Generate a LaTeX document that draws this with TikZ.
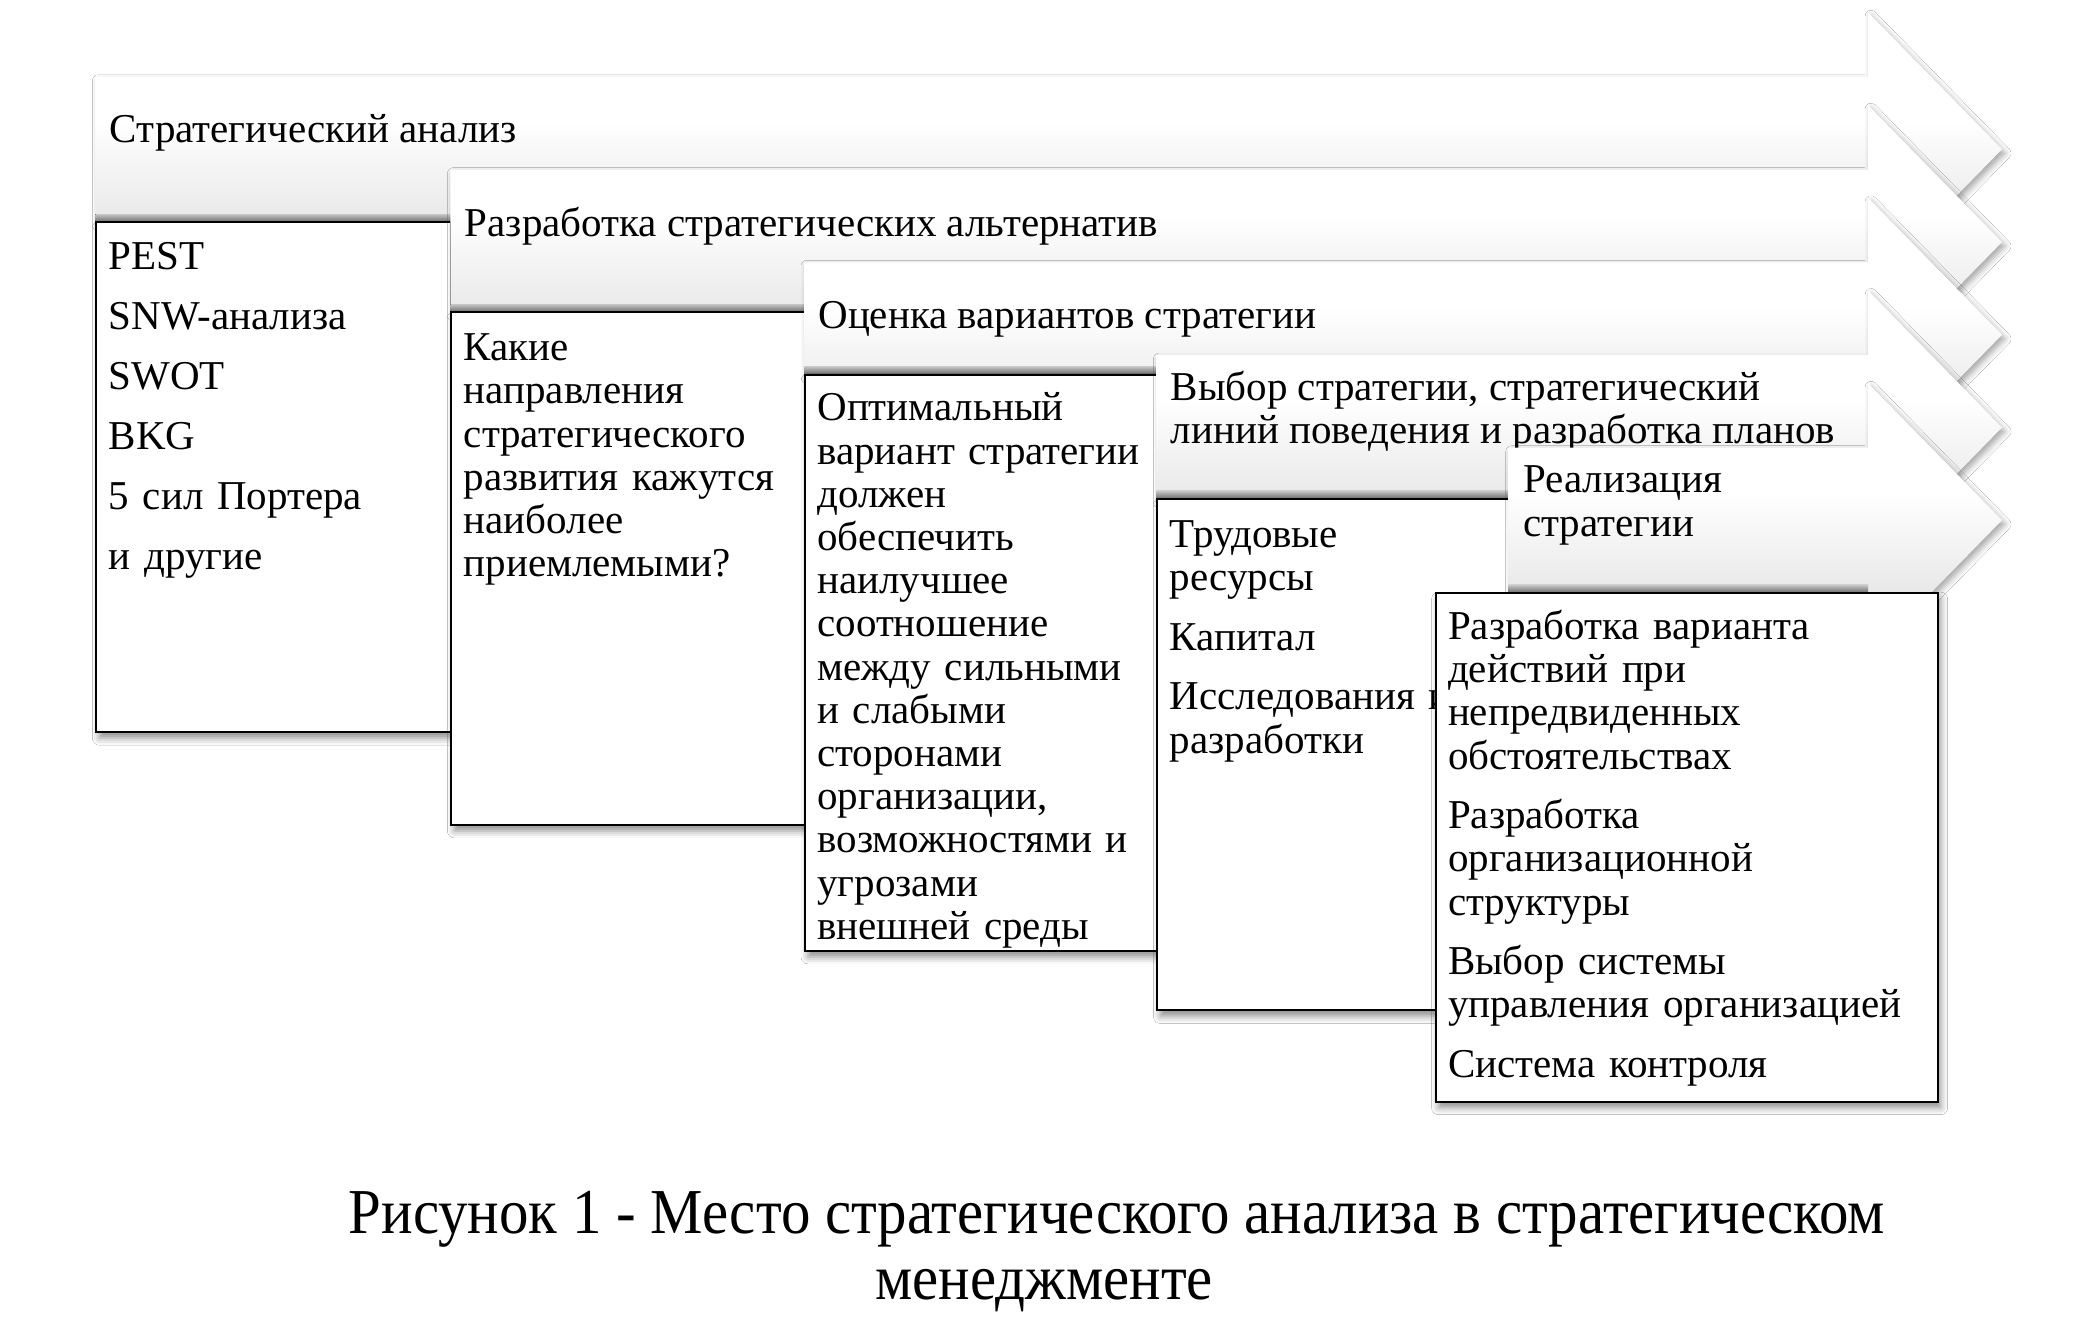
\documentclass[tikz,border=0pt]{standalone}
\usepackage{fontspec}
\setmainfont{Liberation Serif}
\newfontfamily\capfont[FakeStretch=0.92]{Liberation Serif}
\usetikzlibrary{shadows.blur}
\pgfdeclareverticalshading{arrsh}{100bp}{color(0bp)=(black!16); color(25bp)=(black!16); color(37bp)=(black!9); color(55bp)=(white); color(100bp)=(white)}
\tikzset{
  arrowshape/.style={shading=arrsh, blur shadow={shadow xshift=1.5pt, shadow yshift=-2pt, shadow blur radius=3pt, shadow opacity=35}},
  bandshape/.style={top color=black!22, bottom color=black!55},
  boxshape/.style={draw=black, line width=1pt, fill=white, anchor=north west, inner sep=0pt,
    blur shadow={shadow xshift=1.5pt, shadow yshift=-3pt, shadow blur radius=3.5pt, shadow opacity=45}},
  arrtxt/.style={anchor=west, inner sep=0pt, align=left, font=\fontsize{20.5}{21.6}\selectfont},
  boxtxt/.style={anchor=north west, inner sep=0pt, align=left, text width=250pt, font=\fontsize{20.5}{21.6}\selectfont},
  captxt/.style={anchor=base, inner sep=0pt, font=\capfont\fontsize{32}{35}\selectfont}
}
\newcommand{\fs}{\rule{0pt}{16pt}}
\begin{document}
\begin{tikzpicture}[x=0.5pt, y=-0.5pt]
\useasboundingbox (0,0) rectangle (2077,1333);
\fill[white] (0,0) rectangle (2077,1333);
% ---------- stage 1
\path[arrowshape] (95.4,76.8) -- (1868,76.8) -- (1868,12.3) -- (2002,149.3) -- (1868,286.3) -- (1868,221.2) -- (95.4,221.2) -- cycle;
\fill[bandshape] (95.4,214) rectangle (1868,221.2);
\node[arrtxt] (a1) at (109.4,133.3) {Стратегический анализ};
\node[boxshape, minimum width=177.5pt, minimum height=255pt] (b1) at (95.4,221.2) {};
\node[boxtxt] (t1) at ([shift={(13,16)}]b1.north west) {\fs PEST\\[8.4pt] SNW-анализа\\[8.4pt] SWOT\\[8.4pt] BKG\\[8.4pt] 5 сил Портера\\[8.4pt] и другие};
% ---------- stage 2
\path[arrowshape] (450.4,169.6) -- (1868,169.6) -- (1868,105.1) -- (2002,242.1) -- (1868,379.1) -- (1868,311.3) -- (450.4,311.3) -- cycle;
\fill[bandshape] (450.4,304) rectangle (1868,311.3);
\node[arrtxt] (a2) at (464.4,226.1) {Разработка стратегических альтернатив};
\node[boxshape, minimum width=176.8pt, minimum height=256.3pt] (b2) at (450.4,311.3) {};
\node[boxtxt] (t2) at ([shift={(13,17)}]b2.north west) {\fs Какие\\ направления\\ стратегического\\ развития кажутся\\ наиболее\\ приемлемыми?};
% ---------- stage 3
\path[arrowshape] (804,262.3) -- (1868,262.3) -- (1868,197.8) -- (2002,334.8) -- (1868,471.8) -- (1868,373.5) -- (804,373.5) -- cycle;
\fill[bandshape] (804,366.3) rectangle (1868,373.5);
\node[arrtxt] (a3) at (818,318.8) {Оценка вариантов стратегии};
\node[boxshape, minimum width=176.2pt, minimum height=288.15pt] (b3) at (804,373.5) {};
\node[boxtxt] (t3) at ([shift={(13,15)}]b3.north west) {\fs Оптимальный\\ вариант стратегии\\ должен\\ обеспечить\\ наилучшее\\ соотношение\\ между сильными\\ и слабыми\\ сторонами\\ организации,\\ возможностями и\\ угрозами\\ внешней среды};
% ---------- stage 4
\path[arrowshape] (1156.4,355) -- (1868,355) -- (1868,290.5) -- (2002,427.5) -- (1868,564.5) -- (1868,498) -- (1156.4,498) -- cycle;
\fill[bandshape] (1156.4,490.8) rectangle (1868,498);
\node[arrtxt] (a4) at (1170.4,411.5) {Выбор стратегии, стратегический\\ линий поведения и разработка планов};
\node[boxshape, minimum width=176.15pt, minimum height=255.7pt] (b4) at (1156.4,498) {};
\node[boxtxt] (t4) at ([shift={(13,17)}]b4.north west) {\fs Трудовые\\ ресурсы\\[8.2pt] Капитал\\[8.2pt] Исследования и\\ разработки};
% ---------- stage 5
\path[arrowshape] (1508.7,447.7) -- (1868,447.7) -- (1868,383.2) -- (2002,520.2) -- (1868,657.2) -- (1868,592.1) -- (1508.7,592.1) -- cycle;
\fill[bandshape] (1508.7,584.9) rectangle (1868,592.1);
\node[arrtxt] (a5) at (1522.7,505.5) {Реализация\\ стратегии};
\node[boxshape, minimum width=251pt, minimum height=254.3pt] (b5) at (1434.6,592.1) {};
\node[boxtxt] (t5) at ([shift={(13,15)}]b5.north west) {\fs Разработка варианта\\ действий при\\ непредвиденных\\ обстоятельствах\\[8.2pt] Разработка\\ организационной\\ структуры\\[8.2pt] Выбор системы\\ управления организацией\\[8.2pt] Система контроля};
% ---------- caption
\node[captxt] (c1) at (1117,1233) {Рисунок 1 - Место стратегического анализа в стратегическом};
\node[captxt] (c2) at (1044,1299) {менеджменте};
\end{tikzpicture}
\end{document}
